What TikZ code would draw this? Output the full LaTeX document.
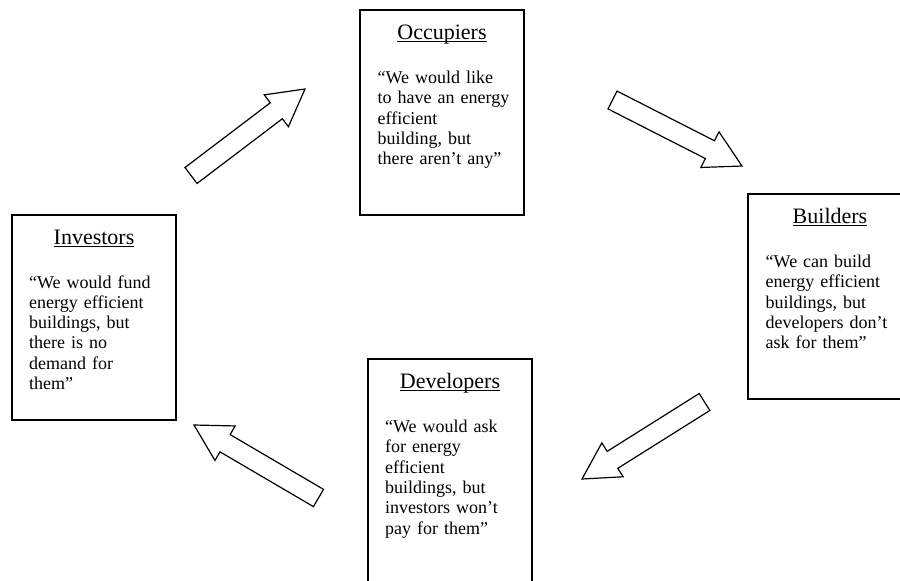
\documentclass[tikz,border=0pt]{standalone}
\usepackage{fontspec}
\setmainfont{Liberation Serif}
\usetikzlibrary{calc}
\newcommand{\wul}[1]{\setbox0\hbox{#1}\rlap{\rule[-2.6pt]{\wd0}{1pt}}\box0}
\newcommand{\blockarr}[2]{%
  \coordinate (#2-base) at ($(#2)!36pt!(#1)$);
  \draw[arrowshape] ($(#1)!10pt!90:(#2)$) -- ($(#2-base)!10pt!90:(#2)$)
    -- ($(#2-base)!20pt!90:(#2)$) -- (#2) -- ($(#2-base)!20pt!-90:(#2)$)
    -- ($(#2-base)!10pt!-90:(#2)$) -- ($(#1)!10pt!-90:(#2)$) -- cycle;
}
\begin{document}
\begin{tikzpicture}[x=1pt,y=-1pt,
  box/.style={draw, line width=1.7pt, minimum width=164pt, minimum height=205pt,
    inner sep=0pt, outer sep=0pt, anchor=north west},
  ttl/.style={anchor=base, inner sep=0pt, font=\fontsize{22}{22}\selectfont},
  body/.style={anchor=base west, inner sep=0pt, text width=150pt, align=left,
    font=\fontsize{18}{20.3}\selectfont},
  arrowshape/.style={draw, line width=1.2pt, line join=miter, fill=white}]
\useasboundingbox (0,0) rectangle (900,581);

\node[box] (occ) at (360,10) {};
\node[box] (bld) at (748,194) {};
\node[box] (inv) at (12,215) {};
\node[box, minimum height=260pt] (dev) at (368,359) {};

\node[ttl] (occT) at ($(occ.north)+(0,29.5)$) {\wul{Occupiers}};
\node[ttl] (bldT) at ($(bld.north)+(0,29.5)$) {\wul{Builders}};
\node[ttl] (invT) at ($(inv.north)+(0,29.5)$) {\wul{Investors}};
\node[ttl] (devT) at ($(dev.north)+(0,29.5)$) {\wul{Developers}};

\node[body] (occB) at ($(occ.north west)+(17.5,73.5)$)
  {“We would like\\ to have an energy\\ efficient\\ building, but\\ there aren’t any”};
\node[body] (bldB) at ($(bld.north west)+(17.5,73.5)$)
  {“We can build\\ energy efficient\\ buildings, but\\ developers don’t\\ ask for them”};
\node[body] (invB) at ($(inv.north west)+(17,73)$)
  {“We would fund\\ energy efficient\\ buildings, but\\ there is no\\ demand for\\ them”};
\node[body] (devB) at ($(dev.north west)+(17,73.5)$)
  {“We would ask\\ for energy\\ efficient\\ buildings, but\\ investors won’t\\ pay for them”};

\coordinate (a1s) at (191,175.5); \coordinate (a1e) at (305,89);
\coordinate (a2s) at (612.5,100); \coordinate (a2e) at (742,166);
\coordinate (a3s) at (704.5,402); \coordinate (a3e) at (582,479);
\coordinate (a4s) at (318.5,498); \coordinate (a4e) at (194,425);
\blockarr{a1s}{a1e}
\blockarr{a2s}{a2e}
\blockarr{a3s}{a3e}
\blockarr{a4s}{a4e}
\end{tikzpicture}
\end{document}
